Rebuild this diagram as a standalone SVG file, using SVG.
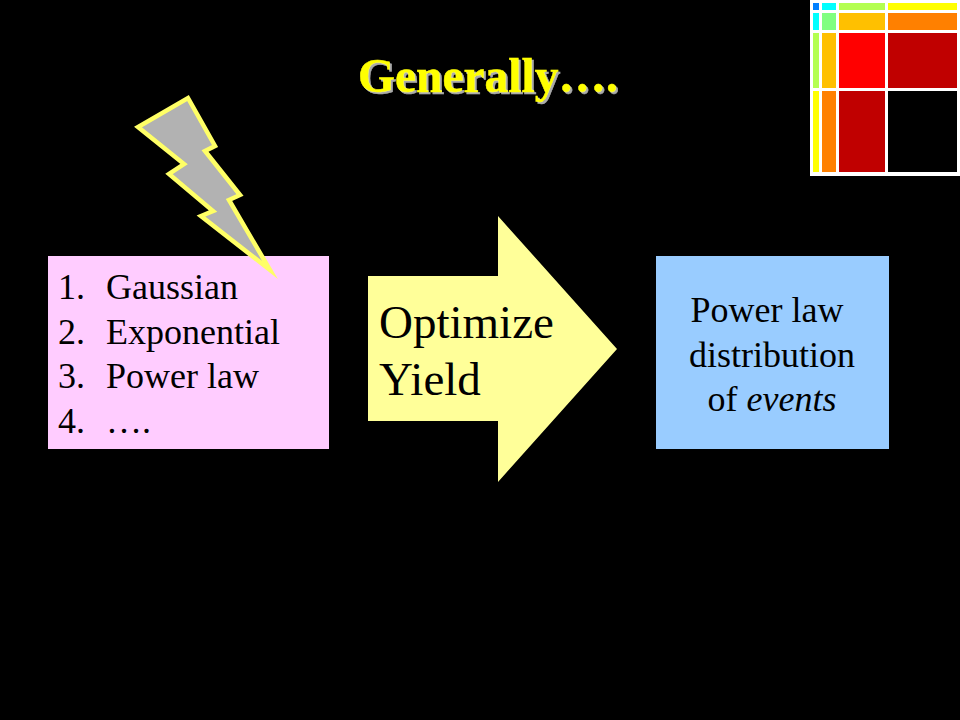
<svg xmlns="http://www.w3.org/2000/svg" width="960" height="720" viewBox="0 0 960 720">
<style>
.t{font-family:"Liberation Serif","Times New Roman",serif;fill:#000}
.l{font-size:36px}
.r{font-size:36px;text-anchor:middle}
.h{font-family:"Liberation Serif","Times New Roman",serif;font-size:47.5px;font-weight:bold}
</style>
<defs>
<filter id="shadow" x="-5%" y="-20%" width="110%" height="140%"><feDropShadow dx="2" dy="2" stdDeviation="0.5" flood-color="#aaaaaa"/></filter>
</defs>
<rect width="960" height="720" fill="#000"/>
<g id="treemap">
<rect x="810" y="0" width="150" height="176" fill="#fff"/>
<rect x="813" y="3" width="6" height="7" fill="#0080ff"/>
<rect x="822" y="3" width="14" height="7" fill="#00ffff"/>
<rect x="839" y="3" width="46" height="7" fill="#b4ff50"/>
<rect x="888" y="3" width="69" height="7" fill="#ffff00"/>
<rect x="813" y="13" width="6" height="17" fill="#00ffff"/>
<rect x="822" y="13" width="14" height="17" fill="#80ff80"/>
<rect x="839" y="13" width="46" height="17" fill="#ffc000"/>
<rect x="888" y="13" width="69" height="17" fill="#ff8000"/>
<rect x="813" y="33" width="6" height="55" fill="#b4ff50"/>
<rect x="822" y="33" width="14" height="55" fill="#ffc000"/>
<rect x="839" y="33" width="46" height="55" fill="#ff0000"/>
<rect x="888" y="33" width="69" height="55" fill="#c00000"/>
<rect x="813" y="91" width="6" height="81" fill="#ffff00"/>
<rect x="822" y="91" width="14" height="81" fill="#ff8000"/>
<rect x="839" y="91" width="46" height="81" fill="#c00000"/>
<rect x="888" y="91" width="69" height="81" fill="#000"/>
</g>
<g id="title">
<text class="h" x="358" y="92" fill="#ffff00" stroke="#ffff00" stroke-width="0.5" filter="url(#shadow)">Generally….</text>
</g>
<g id="list">
<rect x="48" y="256" width="281" height="193" fill="#ffccff"/>
<text class="t l" x="58" y="299">1.</text><text class="t l" x="106" y="299">Gaussian</text>
<text class="t l" x="58" y="344">2.</text><text class="t l" x="106" y="344">Exponential</text>
<text class="t l" x="58" y="388">3.</text><text class="t l" x="106" y="388">Power law</text>
<text class="t l" x="58" y="433">4.</text><text class="t l" x="106" y="433">….</text>
</g>
<g id="bolt">
<polygon points="188,98 215,146 205,151 240,195 229,200 270,270 201,216 213,211 169,174 184,164 138,127" fill="#b2b2b2" stroke="#ffff66" stroke-width="4.5" stroke-linejoin="miter" stroke-miterlimit="10"/>
</g>
<g id="arrow">
<polygon points="368,276 498,276 498,216 617,349 498,482 498,421 368,421" fill="#ffff99"/>
<text class="t" x="379" y="338" font-size="47">Optimize</text>
<text class="t" x="379" y="395" font-size="47">Yield</text>
</g>
<g id="result">
<rect x="656" y="256" width="233" height="193" fill="#99ccff"/>
<text class="t r" x="767" y="322">Power law</text>
<text class="t r" x="772" y="367">distribution</text>
<text class="t r" x="772" y="411">of <tspan font-style="italic">events</tspan></text>
</g>
</svg>
